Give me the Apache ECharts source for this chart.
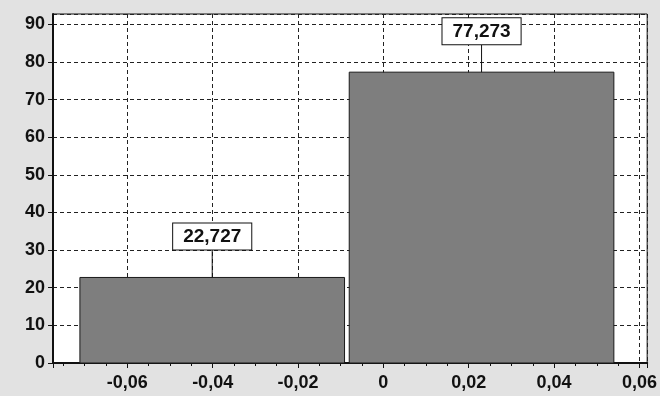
<!DOCTYPE html>
<html>
<head>
<meta charset="utf-8">
<script src="https://cdn.jsdelivr.net/npm/echarts@6/dist/echarts.min.js"></script>
<style>
html,body{margin:0;padding:0;background:#e2e2e2;}
#chart{width:660px;height:396px;}
</style>
</head>
<body>
<div id="chart"></div>
<script>
// Histogram bins (x-range) and percentages
const binStart = [-0.0711, -0.0080];
const binEnd = [-0.0091, 0.0540];
const percent = [22.727, 77.273];
// Axis extents
const xMin = -0.0774, xMax = 0.0618, xStep = 0.02;
const yMin = 0, yMax = 92.727, yStep = 10;

const data = binStart.map((s, i) => [s, binEnd[i], percent[i]]);
const fmtX = v => Math.abs(v) < 1e-9 ? '0' : v.toFixed(2).replace('.', ',');
const fmtV = v => v.toFixed(3).replace('.', ',');
const FONT = '"Liberation Sans", Arial, sans-serif';

const chart = echarts.init(document.getElementById('chart'), null, {renderer: 'canvas'});
chart.setOption({
  backgroundColor: '#e2e2e2',
  animation: false,
  grid: {left: 53, right: 12, top: 14, bottom: 33, show: true, backgroundColor: '#ffffff', borderColor: '#111', borderWidth: 1},
  xAxis: {
    type: 'value', min: xMin, max: xMax, minInterval: xStep, maxInterval: xStep, splitNumber: 7,
    axisLine: {show: true, onZero: false, lineStyle: {color: '#111', width: 2}},
    axisTick: {show: true, inside: false, length: 5, lineStyle: {color: '#111', width: 1}},
    minorTick: {show: true, splitNumber: 4, length: 3, lineStyle: {color: '#111', width: 1}},
    axisLabel: {show: true, showMinLabel: false, showMaxLabel: false, margin: 11, color: '#111', fontSize: 18, fontWeight: 'bold', fontFamily: FONT, formatter: fmtX},
    splitLine: {show: true, lineStyle: {color: '#222', width: 1, type: [4, 3]}}
  },
  yAxis: {
    type: 'value', min: yMin, max: yMax, interval: yStep,
    axisLine: {show: true, onZero: false, lineStyle: {color: '#111', width: 2}},
    axisTick: {show: true, inside: false, length: 5, lineStyle: {color: '#111', width: 1}},
    axisLabel: {show: true, showMaxLabel: false, margin: 8, color: '#111', fontSize: 18, fontWeight: 'bold', fontFamily: FONT},
    splitLine: {show: true, lineStyle: {color: '#222', width: 1, type: [4, 3]}}
  },
  series: [{
    type: 'custom',
    data: data,
    encode: {x: [0, 1], y: 2},
    clip: false,
    renderItem: function (params, api) {
      const s = api.value(0), e = api.value(1), v = api.value(2);
      const pTop = api.coord([s, v]);
      const pBot = api.coord([e, 0]);
      const cx = (pTop[0] + pBot[0]) / 2;
      const lineLen = 28;
      return {
        type: 'group',
        children: [
          {type: 'rect', shape: {x: pTop[0], y: pTop[1], width: pBot[0] - pTop[0], height: pBot[1] - pTop[1]},
           style: {fill: '#7e7e7e', stroke: '#1a1a1a', lineWidth: 1}},
          {type: 'line', shape: {x1: cx, y1: pTop[1], x2: cx, y2: pTop[1] - lineLen},
           style: {stroke: '#111', lineWidth: 1}},
          {type: 'text', x: cx, y: pTop[1] - lineLen,
           style: {text: fmtV(v), align: 'center', verticalAlign: 'bottom', fill: '#111',
                   font: 'bold 19px ' + FONT, backgroundColor: '#ffffff', borderColor: '#111', borderWidth: 1,
                   padding: [4, 10, 3, 10]}}
        ]
      };
    }
  }]
});
</script>
</body>
</html>
